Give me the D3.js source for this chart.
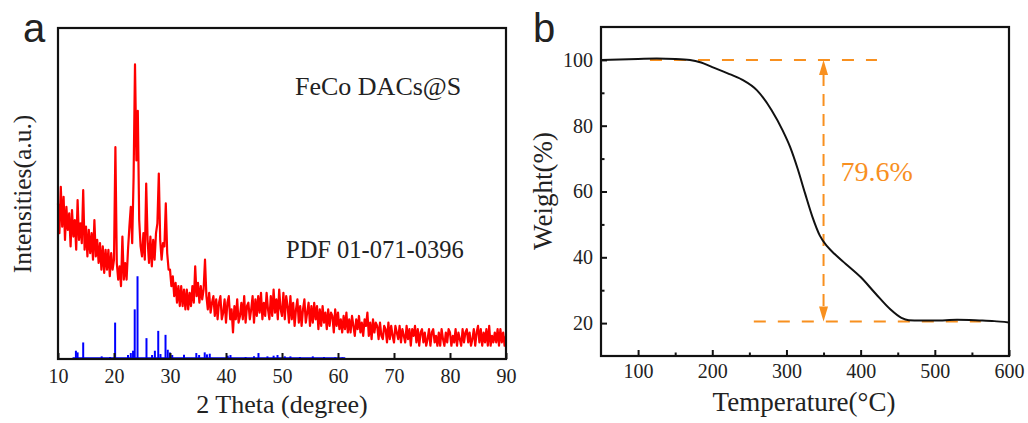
<!DOCTYPE html>
<html><head><meta charset="utf-8">
<script src="https://cdn.jsdelivr.net/npm/d3@7"></script>
<style>
html,body{margin:0;padding:0;background:#fff;}
svg text{font-family:"Liberation Serif","Times New Roman",serif;fill:#222;}
</style></head>
<body>
<svg id="c" width="1028" height="423"></svg>
<script>
// ---------- Panel a: XRD ----------
const xrdStart = 10, xrdStep = 0.25;
const xrdIntensity = [
 47,38,52,40, 49,36,46,39, 44,34,45,37, 42,33,48,36, 41,35,51,33,
 40,31,39,32, 38,30,42,31, 36,29,35,27, 34,26,33,27, 33,25,32,27,
 30,64,29,24, 28,22,37,24, 29,24,33,40, 46,35,55,89, 60,75,42,34,
 31,38,30,53, 36,29,37,28, 36,30,38,41, 56,36,30,35, 34,47,32,27,
 27,22,25,19, 23,17,22,16, 22,16,21,15, 21,15,20,16, 22,17,28,19,
 23,17,22,18, 21,30,19,15, 20,14,17,19, 13,18,12,17, 19,12,14,18,
 11,17,19,12, 15,8,16,12, 18,11,13,17, 12,19,11,16, 17,12,15,19,
 11,18,13,19, 14,20,12,17, 13,20,15,12, 19,13,21,14, 18,12,21,15,
 13,20,12,19, 16,11,19,12, 17,10,15,18, 11,16,10,15, 18,11,14,17,
 10,16,11,17, 12,16,9,15, 10,16,11,14, 9,15,10,14, 13,8,15,10,
 14,9,12,8, 13,9,14,8, 12,8,13,10, 7,12,9,13, 8,11,7,12,
 10,14,7,11, 6,12,8,11, 10,6,11,7, 6,10,9,5, 11,6,10,7,
 5,10,8,6, 10,5,9,7, 5,10,6,9, 4,9,7,10, 5,9,4,8,
 9,5,8,4, 6,9,4,8, 9,5,7,4, 8,4,9,6, 4,8,5,9,
 8,4,7,5, 9,4,8,6, 4,9,5,8, 9,5,8,4, 6,9,4,8,
 10,5,9,4, 8,5,9,4, 10,4,7,5, 8,5,9,4, 9,5,8,4,
 7
];
const refPos = [13.2,13.5,14.5,17.8,19.3,20.2,22.5,23.0,23.4,23.7,24.2,25.8,26.8,27.3,27.9,28.3,29.2,29.6,30.0,30.4,32.5,34.7,35.2,36.2,36.6,37.1,40.3,40.8,43.5,45.0,45.8,47.4,48.5,49.2,50.5,51.5,53.2,55.5,57.5,59.5,60.8];
const refInt = [2.5,2,5,0.8,0.6,11,1.2,1.8,2.5,15,25,6.3,1.2,2.5,8.5,1.5,7.3,2.8,2,1.2,1.3,1.8,1.2,2,1.4,1.6,1.0,1.2,0.6,0.8,1.8,0.8,1,1.2,0.8,0.8,0.6,0.8,0.6,0.5,0.5];
const refRange = [12.6, 61.3];
const xrdTicks = [10,20,30,40,50,60,70,80,90];

// ---------- Panel b: TGA ----------
const tgaTemp = [50,75,100,125,150,170,185,200,220,240,260,280,295,305,315,325,335,345,355,365,380,400,420,440,455,465,480,500,530,560,580,600];
const tgaWeight = [100,100.1,100.3,100.4,100.3,100,99.2,97.8,96,94,90.8,84.7,78.5,73.5,67,59.5,52.3,46.6,43.3,41,38,34,29,24.2,21.6,20.9,20.8,20.8,21,20.8,20.6,20.2];
const tgaXTicks = [100,200,300,400,500,600];
const tgaXMinor = [150,250,350,450,550];
const tgaYTicks = [20,40,60,80,100];
const tgaYMinor = [30,50,70,90];
const lossTop = 100, lossBottom = 20.5, lossAt = 350;
const lossTopSpan = [116, 422], lossBottomSpan = [256, 562];
const lossLabel = "79.6%";

const svg = d3.select("#c");
const orange = "#f8901f";

// ===== Panel a =====
const xa = d3.scaleLinear().domain([10,90]).range([58,506]);
const ya = d3.scaleLinear().domain([0,100]).range([359,28]);
const ga = svg.append("g");
const xrdData = xrdIntensity.map((v,i)=>({x:xrdStart+i*xrdStep, y:v}));

ga.append("path").datum(xrdData)
  .attr("fill","none").attr("stroke","#ff0000").attr("stroke-width",2.2).attr("stroke-linejoin","round")
  .attr("d", d3.line().x(d=>xa(d.x)).y(d=>ya(d.y)));

ga.append("line").attr("x1",xa(refRange[0])).attr("x2",xa(refRange[1]))
  .attr("y1",ya(0)-1).attr("y2",ya(0)-1).attr("stroke","#0000ff").attr("stroke-width",1.5);
ga.selectAll("line.ref").data(refPos).join("line").attr("class","ref")
  .attr("x1",d=>xa(d)).attr("x2",d=>xa(d))
  .attr("y1",ya(0)).attr("y2",(d,i)=>ya(refInt[i]))
  .attr("stroke","#0000ff").attr("stroke-width",2);

const axA = d3.axisBottom(xa).tickValues(xrdTicks).tickSizeInner(-6).tickSizeOuter(0).tickPadding(10).tickFormat(d3.format("d"));
const gax = ga.append("g").attr("transform","translate(0,359)").call(axA);
gax.select(".domain").remove();
gax.selectAll("line").attr("stroke","#111").attr("stroke-width",2);
gax.selectAll("text").attr("font-size",20).attr("fill","#222").attr("font-family","Liberation Serif");

ga.append("rect").attr("x",58).attr("y",28).attr("width",448).attr("height",331)
  .attr("fill","none").attr("stroke","#111").attr("stroke-width",2.2);

ga.append("text").attr("x",282).attr("y",413).attr("text-anchor","middle").attr("font-size",26).text("2 Theta (degree)");
ga.append("text").attr("transform","translate(31,194) rotate(-90)").attr("text-anchor","middle").attr("font-size",25.5).text("Intensities(a.u.)");
ga.append("text").attr("x",295).attr("y",95).attr("font-size",26).text("FeCo DACs@S");
ga.append("text").attr("x",286).attr("y",258).attr("font-size",24.5).text("PDF 01-071-0396");
ga.append("text").attr("x",23).attr("y",42).attr("font-size",40).style("font-family","Liberation Sans, Arial, sans-serif").attr("fill","#111").text("a");

// ===== Panel b =====
const xb = d3.scaleLinear().domain([50,600]).range([601,1009]);
const yb = d3.scaleLinear().domain([10,110]).range([356,27]);
const gb = svg.append("g");

const lineB = d3.line().x((d,i)=>xb(tgaTemp[i])).y(d=>yb(d)).curve(d3.curveMonotoneX);

gb.append("line").attr("x1",xb(lossTopSpan[0])).attr("x2",xb(lossTopSpan[1])).attr("y1",yb(lossTop)).attr("y2",yb(lossTop))
  .attr("stroke",orange).attr("stroke-width",2).attr("stroke-dasharray","12,12");
gb.append("line").attr("x1",xb(lossBottomSpan[0])).attr("x2",xb(lossBottomSpan[1])).attr("y1",yb(lossBottom)).attr("y2",yb(lossBottom))
  .attr("stroke",orange).attr("stroke-width",2).attr("stroke-dasharray","12,12");
gb.append("line").attr("x1",xb(lossAt)).attr("x2",xb(lossAt)).attr("y1",yb(lossTop)+14).attr("y2",yb(lossBottom)-14)
  .attr("stroke",orange).attr("stroke-width",2).attr("stroke-dasharray","12,8");
const ax = xb(lossAt), yt = yb(lossTop), ybt = yb(lossBottom);
gb.append("path").attr("d",`M${ax},${yt}L${ax-4.5},${yt+15}L${ax+4.5},${yt+15}Z`).attr("fill",orange);
gb.append("path").attr("d",`M${ax},${ybt}L${ax-4.5},${ybt-15}L${ax+4.5},${ybt-15}Z`).attr("fill",orange);

gb.append("path").datum(tgaWeight).attr("fill","none").attr("stroke","#111").attr("stroke-width",2).attr("d",lineB);

const axBx = d3.axisBottom(xb).tickValues(tgaXTicks).tickSizeInner(-6).tickSizeOuter(0).tickPadding(8).tickFormat(d3.format("d"));
const gbx = gb.append("g").attr("transform","translate(0,356)").call(axBx);
const axBxm = d3.axisBottom(xb).tickValues(tgaXMinor).tickSizeInner(-3.5).tickSizeOuter(0).tickFormat("");
const gbxm = gb.append("g").attr("transform","translate(0,356)").call(axBxm);
const axBy = d3.axisLeft(yb).tickValues(tgaYTicks).tickSizeInner(-6).tickSizeOuter(0).tickPadding(8).tickFormat(d3.format("d"));
const gby = gb.append("g").attr("transform","translate(601,0)").call(axBy);
const axBym = d3.axisLeft(yb).tickValues(tgaYMinor).tickSizeInner(-3.5).tickSizeOuter(0).tickFormat("");
const gbym = gb.append("g").attr("transform","translate(601,0)").call(axBym);
[gbx,gbxm,gby,gbym].forEach(g=>{
  g.select(".domain").remove();
  g.selectAll("line").attr("stroke","#111").attr("stroke-width",2);
  g.selectAll("text").attr("font-size",20).attr("fill","#222").attr("font-family","Liberation Serif");
});

gb.append("rect").attr("x",601).attr("y",27).attr("width",408).attr("height",329)
  .attr("fill","none").attr("stroke","#111").attr("stroke-width",2.2);

gb.append("text").attr("x",xb(lossAt)+17).attr("y",181).attr("font-size",28).attr("fill",orange).style("fill",orange).text(lossLabel);
gb.append("text").attr("x",804).attr("y",411).attr("text-anchor","middle").attr("font-size",27).text("Temperature(°C)");
gb.append("text").attr("transform","translate(552,191) rotate(-90)").attr("text-anchor","middle").attr("font-size",27).text("Weight(%)");
gb.append("text").attr("x",533).attr("y",42).attr("font-size",40).style("font-family","Liberation Sans, Arial, sans-serif").attr("fill","#111").text("b");
</script>
</body></html>
